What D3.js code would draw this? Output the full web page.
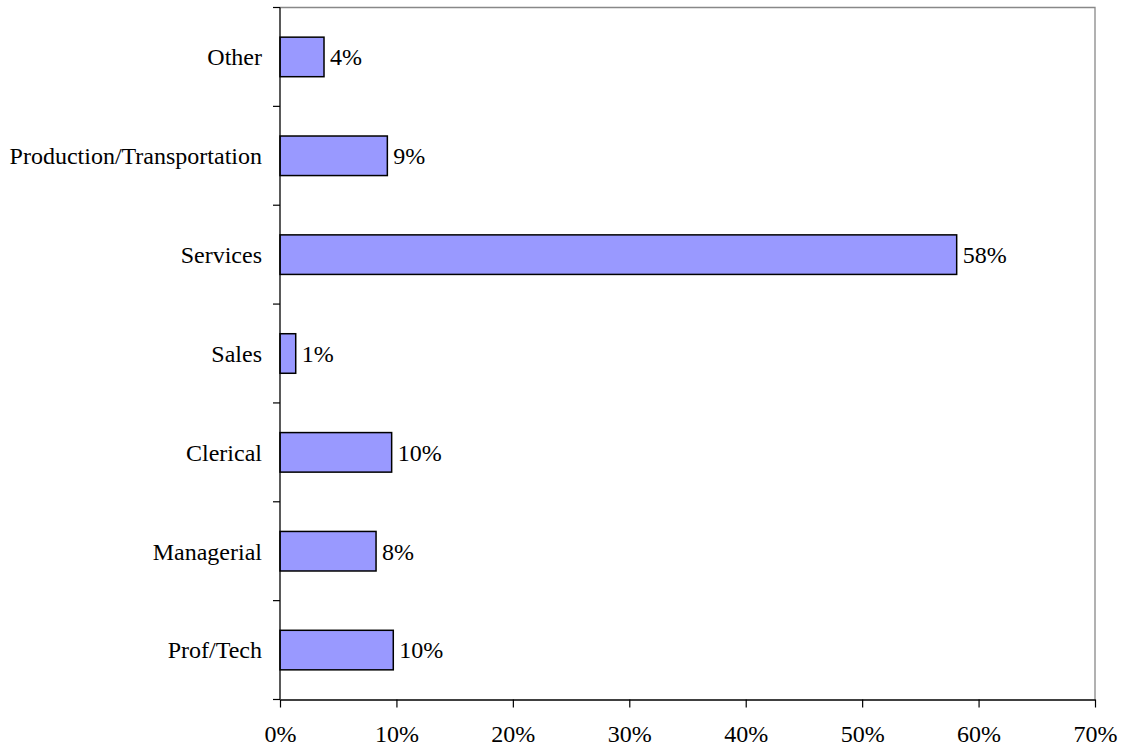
<!DOCTYPE html>
<html><head><meta charset="utf-8">
<script src="https://cdn.jsdelivr.net/npm/d3@7"></script>
<style>body{margin:0;background:#fff;}svg{display:block;font-family:"Liberation Serif","Times New Roman",serif;}</style>
</head><body>
<svg id="chart" width="1122" height="747"></svg>
<script>
const categories = ["Other","Production/Transportation","Services","Sales","Clerical","Managerial","Prof/Tech"];
const values = [3.78, 9.22, 58.12, 1.35, 9.59, 8.25, 9.73];
const valueLabels = ["4%","9%","58%","1%","10%","8%","10%"];
const xTicks = [0,10,20,30,40,50,60,70];

const FS = 24;
const svg = d3.select("#chart");
const L = 280, R = 1095, T = 7.5, B = 699.5;
const x = d3.scaleLinear().domain([0,70]).range([L,R]);
const y = d3.scaleBand().domain(categories).range([T,B]).paddingInner(0.6).paddingOuter(0.3);
const yTick = d3.scaleBand().domain(categories).range([T,B]);

// plot border (top, right)
svg.append("path").attr("d",`M${L},${T}H${R}V${B}`).attr("fill","none").attr("stroke","#888").attr("stroke-width",1.3);

// bars
svg.selectAll("rect.bar").data(categories).enter().append("rect")
  .attr("x", x(0)).attr("y", d=>y(d)).attr("width", (d,i)=>x(values[i])-x(0)).attr("height", y.bandwidth())
  .attr("fill","#9999FF").attr("stroke","#000").attr("stroke-width",1.5);

// value labels
svg.selectAll("text.val").data(categories).enter().append("text")
  .attr("x",(d,i)=>x(values[i])+6).attr("y",d=>y(d)+y.bandwidth()/2).attr("dy","0.35em")
  .attr("font-size",FS).attr("fill","#000").text((d,i)=>valueLabels[i]);

// y axis
svg.append("line").attr("x1",L).attr("x2",L).attr("y1",T).attr("y2",B).attr("stroke","#000").attr("stroke-width",1.3);
const yt = categories.map(d=>yTick(d)).concat([B]);
svg.selectAll("line.ytick").data(yt).enter().append("line")
  .attr("x1",L-7).attr("x2",L).attr("y1",d=>d).attr("y2",d=>d).attr("stroke","#000").attr("stroke-width",1.2);
svg.selectAll("text.cat").data(categories).enter().append("text")
  .attr("x",L-18).attr("y",d=>yTick(d)+yTick.bandwidth()/2).attr("dy","0.35em").attr("text-anchor","end")
  .attr("font-size",FS).attr("fill","#000").text(d=>d);

// x axis
const xAxis = d3.axisBottom(x).tickValues(xTicks).tickFormat(d=>d+"%").tickSize(8).tickSizeOuter(0);
const gx = svg.append("g").attr("transform",`translate(0,${B})`).call(xAxis);
gx.select(".domain").attr("stroke","#000").attr("stroke-width",1.3);
gx.selectAll(".tick line").attr("stroke","#000").attr("stroke-width",1.2);
gx.selectAll(".tick text").attr("font-size",FS).attr("font-family","'Liberation Serif','Times New Roman',serif").attr("fill","#000").attr("y",42).attr("dy","0");
</script>
</body></html>
